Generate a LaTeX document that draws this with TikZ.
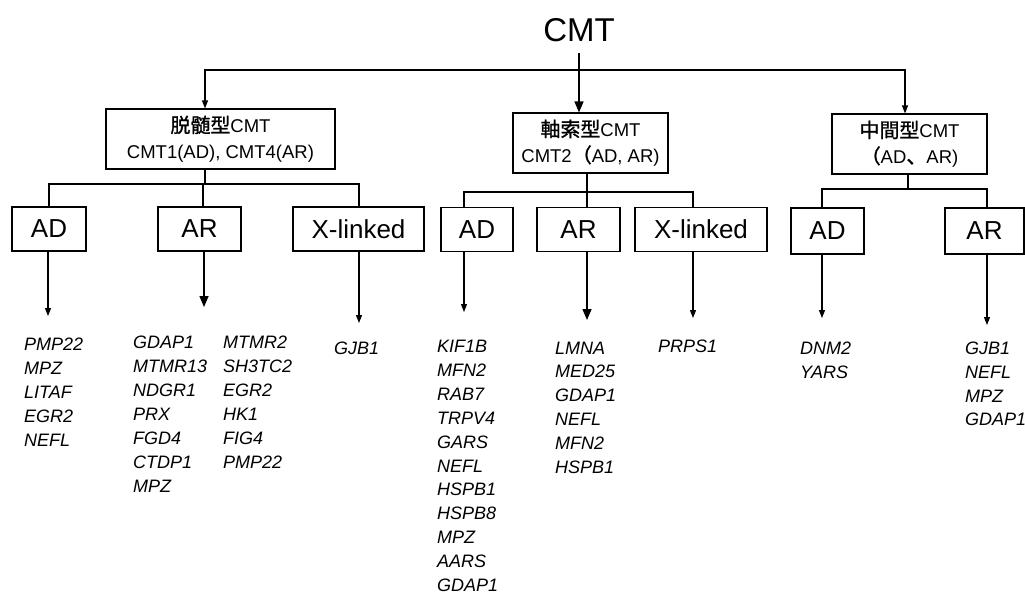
\documentclass[tikz,border=0pt]{standalone}
\usepackage{fontspec}
\setmainfont{Liberation Sans}
\newfontfamily\cjk[Scale=1.08,FakeBold=1.2]{Noto Sans CJK JP}
\usetikzlibrary{arrows.meta}
\begin{document}
\begin{tikzpicture}[x=1pt,y=-1pt,
  box/.style={draw,line width=1.1pt,inner sep=0pt,minimum height=44pt,font=\fontsize{26}{30}\selectfont},
  bigbox/.style={draw,line width=1.1pt,inner sep=0pt,minimum height=60pt,align=center,font=\fontsize{18.5}{26}\selectfont},
  conn/.style={line width=1.1pt},
  arr/.style={conn,-{Triangle[length=8pt,width=6pt]}},
  bigarr/.style={line width=1.5pt,-{Triangle[length=11pt,width=9pt]}},
  genes/.style={anchor=north west,inner sep=0pt,align=left,font=\fontsize{18}{23.9}\selectfont\itshape}
]
\useasboundingbox (0,0) rectangle (1025,595);

% title
\node[font=\fontsize{33}{36}\selectfont] (cmt) at (579,30) {CMT};

% level 1 boxes
\node[bigbox,minimum width=229pt] (b1) at (220.5,139) {{\cjk 脱髄型}CMT\\CMT1(AD), CMT4(AR)};
\node[bigbox,minimum width=155pt] (b2) at (590.5,143) {{\cjk 軸索型}CMT\\CMT2{\cjk （}AD, AR)};
\node[bigbox,minimum width=155pt] (b3) at (909.5,144) {{\cjk 中間型}CMT\\{\cjk （}AD{\cjk 、}AR)};

% level 2 boxes
\node[box,minimum width=74pt] (ad1) at (49,229) {AD};
\node[box,minimum width=83pt] (ar1) at (199.5,229) {AR};
\node[box,minimum width=131pt] (xl1) at (358.5,229) {X-linked};
\node[box,minimum width=72pt] (ad2) at (477,229.5) {AD};
\node[box,minimum width=83pt] (ar2) at (578.5,229.5) {AR};
\node[box,minimum width=132pt] (xl2) at (701,229.5) {X-linked};
\node[box,minimum width=73pt,minimum height=46pt] (ad3) at (827.5,231) {AD};
\node[box,minimum width=79pt,minimum height=46pt] (ar3) at (984.5,231) {AR};

% gene lists
\node[genes] (gad1) at (24,338) {PMP22\\MPZ\\LITAF\\EGR2\\NEFL};
\node[genes] (gar1a) at (133,336) {GDAP1\\MTMR13\\NDGR1\\PRX\\FGD4\\CTDP1\\MPZ};
\node[genes] (gar1b) at (223,336) {MTMR2\\SH3TC2\\EGR2\\HK1\\FIG4\\PMP22};
\node[genes] (gxl1) at (334,341.5) {GJB1};
\node[genes] (gad2) at (437,340) {KIF1B\\MFN2\\RAB7\\TRPV4\\GARS\\NEFL\\HSPB1\\HSPB8\\MPZ\\AARS\\GDAP1};
\node[genes] (gar2) at (555,341.5) {LMNA\\MED25\\GDAP1\\NEFL\\MFN2\\HSPB1};
\node[genes] (gxl2) at (658,339.5) {PRPS1};
\node[genes] (gad3) at (800,341.5) {DNM2\\YARS};
\node[genes] (gar3) at (965,341.5) {GJB1\\NEFL\\MPZ\\GDAP1};

% top level connectors
\coordinate (hub) at (579,70);
\coordinate (hL) at (205,70);
\coordinate (hR) at (905,70);
\draw[bigarr,shorten <=8pt] (cmt.south) -- (cmt.south |- b2.north);
\draw[arr] (hub) -- (hL) -- (hL |- b1.north);
\draw[arr] (hub) -- (hR) -- (hR |- b3.north);

% group 1
\coordinate (g1) at (205,184);
\coordinate (g1a) at (49,184);
\coordinate (g1b) at (203,184);
\coordinate (g1c) at (359,184);
\draw[conn] (g1 |- b1.south) -- (g1);
\draw[conn] (g1a |- ad1.north) -- (g1a) -- (g1c) -- (g1c |- xl1.north);
\draw[conn] (g1b) -- (g1b |- ar1.north);

% group 2
\coordinate (g2) at (587,192);
\coordinate (g2a) at (464,192);
\coordinate (g2c) at (693,192);
\draw[conn] (g2 |- b2.south) -- (g2) -- (g2 |- ar2.north);
\draw[conn] (g2a |- ad2.north) -- (g2a) -- (g2c) -- (g2c |- xl2.north);

% group 3
\coordinate (g3) at (908,189);
\coordinate (g3a) at (822,189);
\coordinate (g3c) at (987,189);
\draw[conn] (g3 |- b3.south) -- (g3);
\draw[conn] (g3a |- ad3.north) -- (g3a) -- (g3c) -- (g3c |- ar3.north);

% arrows to gene lists
\coordinate (t1a) at (48,316);
\coordinate (t1b) at (204,307);
\coordinate (t1c) at (359,323);
\coordinate (t2a) at (464,312);
\coordinate (t2b) at (587,320);
\coordinate (t2c) at (693,318);
\coordinate (t3a) at (822,318);
\coordinate (t3b) at (987,325);
\draw[arr] (t1a |- ad1.south) -- (t1a);
\draw[bigarr] (t1b |- ar1.south) -- (t1b);
\draw[arr] (t1c |- xl1.south) -- (t1c);
\draw[arr] (t2a |- ad2.south) -- (t2a);
\draw[bigarr] (t2b |- ar2.south) -- (t2b);
\draw[arr] (t2c |- xl2.south) -- (t2c);
\draw[arr] (t3a |- ad3.south) -- (t3a);
\draw[arr] (t3b |- ar3.south) -- (t3b);
\end{tikzpicture}
\end{document}
